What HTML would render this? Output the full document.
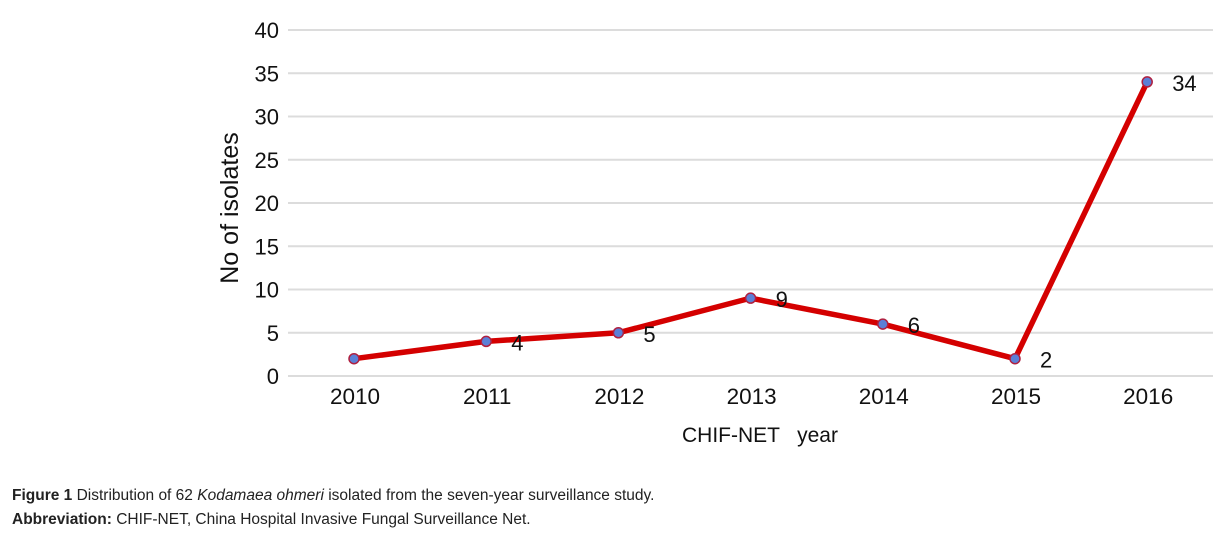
<!DOCTYPE html>
<html><head><meta charset="utf-8"><style>
body{margin:0;background:#fff;width:1228px;height:544px;overflow:hidden;font-family:"Liberation Sans",sans-serif;}
.cap{position:absolute;left:12px;font-size:15.5px;color:#222;}
</style></head><body>
<svg id="chart" width="1228" height="470" style="position:absolute;left:0;top:0" font-family="Liberation Sans, sans-serif">
<g id="grid"></g>
<g id="yticks"></g>
<g id="xticks"></g>
<g id="series"></g>
<text transform="translate(238,208) rotate(-90)" text-anchor="middle" font-size="25" fill="#111">No of isolates</text>
<text x="760" y="442" text-anchor="middle" font-size="21" fill="#111" xml:space="preserve">CHIF-NET   year</text>
</svg>
<div class="cap" style="top:487px"><b>Figure 1</b> Distribution of 62 <i>Kodamaea ohmeri</i> isolated from the seven-year surveillance study.</div>
<div class="cap" style="top:511px"><b>Abbreviation:</b> CHIF-NET, China Hospital Invasive Fungal Surveillance Net.</div>
<script>
const categories=["2010","2011","2012","2013","2014","2015","2016"];
const values=[2,4,5,9,6,2,34];
const labels=["","4","5","9","6","2","34"];
const yTicks=[0,5,10,15,20,25,30,35,40];
const NS="http://www.w3.org/2000/svg";
const x0=354,dx=132.2,y0=376,yTop=30,yMax=40;
const xs=i=>x0+i*dx;
const ys=v=>y0-(v/yMax)*(y0-yTop);
function mk(t,a,p){const e=document.createElementNS(NS,t);for(const k in a)e.setAttribute(k,a[k]);p.appendChild(e);return e;}
const grid=document.getElementById('grid'),yt=document.getElementById('yticks'),xt=document.getElementById('xticks'),se=document.getElementById('series');
yTicks.forEach(v=>{
 const l=mk('line',{x1:288,x2:1213,y1:ys(v),y2:ys(v),stroke:'#dcdcdc','stroke-width':2},grid);
 
 
 const t=mk('text',{x:279,y:ys(v)+8,'text-anchor':'end','font-size':22,fill:'#111'},yt);t.textContent=v;
 
 
});
categories.forEach((c,i)=>{
 const t=mk('text',{x:xs(i)+1,y:404,'text-anchor':'middle','font-size':22.5,fill:'#111'},xt);t.textContent=c;
 
 
});
const pts=values.map((v,i)=>xs(i)+','+ys(v)).join(' ');
const pl=mk('polyline',{points:pts,fill:'none',stroke:'#d40000','stroke-width':5.5,'stroke-linejoin':'round'},se);


values.forEach((v,i)=>{
 const c=mk('circle',{cx:xs(i),cy:ys(v),r:5,fill:'#5b7fd6',stroke:'#b02040','stroke-width':1.5},se);
 
 
 if(labels[i]){
  const t=mk('text',{x:xs(i)+25,y:ys(v)+9,'font-size':22,fill:'#111'},se);t.textContent=labels[i];
  
  
 }
});
</script>
</body></html>
